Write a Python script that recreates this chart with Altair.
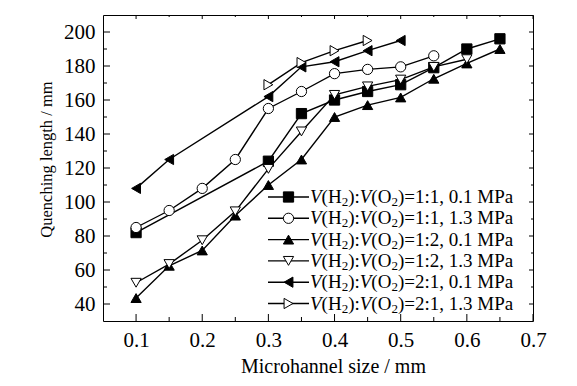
import altair as alt
import pandas as pd

# ---- data ----
labels = [
    "V(H₂):V(O₂)=1:1, 0.1 MPa",
    "V(H₂):V(O₂)=1:1, 1.3 MPa",
    "V(H₂):V(O₂)=1:2, 0.1 MPa",
    "V(H₂):V(O₂)=1:2, 1.3 MPa",
    "V(H₂):V(O₂)=2:1, 0.1 MPa",
    "V(H₂):V(O₂)=2:1, 1.3 MPa",
]

x_s1 = [0.1, 0.3, 0.35, 0.4, 0.45, 0.5, 0.55, 0.6, 0.65]
y_s1 = [82, 124, 152, 160, 165, 169, 179, 190, 196]

x_s2 = [0.1, 0.15, 0.2, 0.25, 0.3, 0.35, 0.4, 0.45, 0.5, 0.55]
y_s2 = [85, 95, 108, 125, 155, 165, 175.5, 178, 179.5, 186]

x_s3 = [0.1, 0.15, 0.2, 0.25, 0.3, 0.35, 0.4, 0.45, 0.5, 0.55, 0.6, 0.65]
y_s3 = [43.5, 62.5, 71.5, 92, 110, 125, 150, 157, 161.5, 172.5, 181.5, 190]

x_s4 = [0.1, 0.15, 0.2, 0.25, 0.3, 0.35, 0.4, 0.45, 0.5, 0.55, 0.6]
y_s4 = [52.5, 63.5, 77.5, 94.5, 119.5, 141.5, 163, 168, 172, 179.5, 184]

x_s5 = [0.1, 0.15, 0.3, 0.35, 0.4, 0.45, 0.5]
y_s5 = [108, 125, 162, 179.5, 182.5, 189, 195]

x_s6 = [0.3, 0.35, 0.4, 0.45]
y_s6 = [169, 182, 189, 195]

xs = [x_s1, x_s2, x_s3, x_s4, x_s5, x_s6]
ys = [y_s1, y_s2, y_s3, y_s4, y_s5, y_s6]

x_major = [0.1, 0.2, 0.3, 0.4, 0.5, 0.6, 0.7]
x_minor = [0.15, 0.25, 0.35, 0.45, 0.55, 0.65]
y_major = [40, 60, 80, 100, 120, 140, 160, 180, 200]
y_minor = [50, 70, 90, 110, 130, 150, 170, 190]

shapes = ["square", "circle", "triangle-up", "triangle-down", "triangle-left", "triangle-right"]
fills = ["black", "white", "black", "white", "black", "white"]

rows = []
for lab, xx, yy in zip(labels, xs, ys):
    for a, b in zip(xx, yy):
        rows.append({"series": lab, "x": a, "y": b})
df = pd.DataFrame(rows)

# legend pieces (italic V, subscript 2) derived from the label strings
leg = pd.DataFrame({
    "series": labels,
    "v": ["V"] * len(labels),
    "h": ["(H"] * len(labels),
    "two": ["2"] * len(labels),
    "colon": ["):"] * len(labels),
    "o": ["(O"] * len(labels),
    "tail": [")" + s.split("(O₂)")[1] for s in labels],
})

W, H = 430, 306
FONT = "Liberation Serif"
FS = 19      # legend font size
SS = 13      # subscript size

xsc = alt.Scale(domain=[0.05, 0.7], nice=False, zero=False)
ysc = alt.Scale(domain=[30, 210], nice=False, zero=False)
shape_sc = alt.Scale(domain=labels, range=shapes)
fill_sc = alt.Scale(domain=labels, range=fills)

x_axis = alt.Axis(values=x_major, format=".1f", title="Microhannel size / mm",
                  titleFontSize=20, titlePadding=6, titleX=230, titleAlign="center")
y_axis = alt.Axis(values=y_major, format="d", title="Quenching length / mm",
                  titleFontSize=16.5, titlePadding=9, titleY=144, titleAlign="center")

X = alt.X("x:Q", scale=xsc, axis=x_axis)
Y = alt.Y("y:Q", scale=ysc, axis=y_axis)

lines = alt.Chart(df).mark_line(color="black", strokeWidth=1.4).encode(
    x=X, y=Y, detail="series:N")

pts = alt.Chart(df).mark_point(filled=True, stroke="black", strokeWidth=1, opacity=1, size=105).encode(
    x=X, y=Y,
    shape=alt.Shape("series:N", scale=shape_sc, legend=None),
    fill=alt.Fill("series:N", scale=fill_sc, legend=None))

xmaj = pd.DataFrame({"x": x_major})
xmin = pd.DataFrame({"x": x_minor})
ymaj = pd.DataFrame({"y": y_major})
ymin = pd.DataFrame({"y": y_minor})

def xt(d, y0, y1):
    return alt.Chart(d).mark_rule(color="black", strokeWidth=1).encode(
        x=X, y=alt.value(y0), y2=alt.value(y1))

def yt(d, x0, x1):
    return alt.Chart(d).mark_rule(color="black", strokeWidth=1).encode(
        y=Y, x=alt.value(x0), x2=alt.value(x1))

ticks = [
    xt(xmaj, H, H - 7), xt(xmin, H, H - 4), xt(xmaj, 0, 4), xt(xmin, 0, 2),
    yt(ymaj, 0, 7), yt(ymin, 0, 4), yt(ymaj, W, W - 4), yt(ymin, W, W - 2),
]

data_layer = alt.layer(lines, pts, *ticks)

LY = alt.Y("series:N", sort=labels, axis=None,
           scale=alt.Scale(type="point", range=[182, 288.5], padding=0))

leg_line = alt.Chart(leg).mark_rule(color="black", strokeWidth=1.4).encode(
    y=LY, x=alt.value(165), x2=alt.value(206))
leg_pts = alt.Chart(leg).mark_point(filled=True, stroke="black", strokeWidth=1, opacity=1, size=105).encode(
    y=LY, x=alt.value(185.5),
    shape=alt.Shape("series:N", scale=shape_sc, legend=None),
    fill=alt.Fill("series:N", scale=fill_sc, legend=None))

# text pieces laid out with Times-metric advance widths
x0 = 207.0
w_v = 0.611 * FS
w_pl = 1.055 * FS
w_sub = 0.5 * SS
w_colon = 0.611 * FS
pieces = [
    ("v", x0, FS, "italic", 0),
    ("h", x0 + w_v, FS, "normal", 0),
    ("two", x0 + w_v + w_pl, SS, "normal", 5),
    ("colon", x0 + w_v + w_pl + w_sub, FS, "normal", 0),
    ("v", x0 + w_v + w_pl + w_sub + w_colon, FS, "italic", 0),
    ("o", x0 + 2 * w_v + w_pl + w_sub + w_colon, FS, "normal", 0),
    ("two", x0 + 2 * w_v + 2 * w_pl + w_sub + w_colon, SS, "normal", 5),
    ("tail", x0 + 2 * w_v + 2 * w_pl + 2 * w_sub + w_colon, FS, "normal", 0),
]
leg_txt = [
    alt.Chart(leg).mark_text(align="left", baseline="middle", font=FONT, fontSize=fs,
                             fontStyle=st, color="black", dy=dy).encode(
        y=LY, x=alt.value(px), text=f"{col}:N")
    for col, px, fs, st, dy in pieces
]

legend_layer = alt.layer(leg_line, leg_pts, *leg_txt)

chart = alt.layer(data_layer, legend_layer).resolve_scale(y="independent").properties(
    width=W, height=H,
    background="white",
    autosize=alt.AutoSizeParams(type="none"),
    padding={"left": 95, "top": 7, "right": 36, "bottom": 57},
).configure_view(stroke="black", strokeWidth=1).configure_axis(
    tickSize=0, domain=False, grid=False, labelOverlap=False, labelFlush=False,
    labelFont=FONT, labelFontSize=21, labelColor="black", labelPadding=8,
    titleFont=FONT, titleFontWeight="normal", titleColor="black",
)

chart.save("out.html", embed_options={"renderer": "svg", "actions": False})
